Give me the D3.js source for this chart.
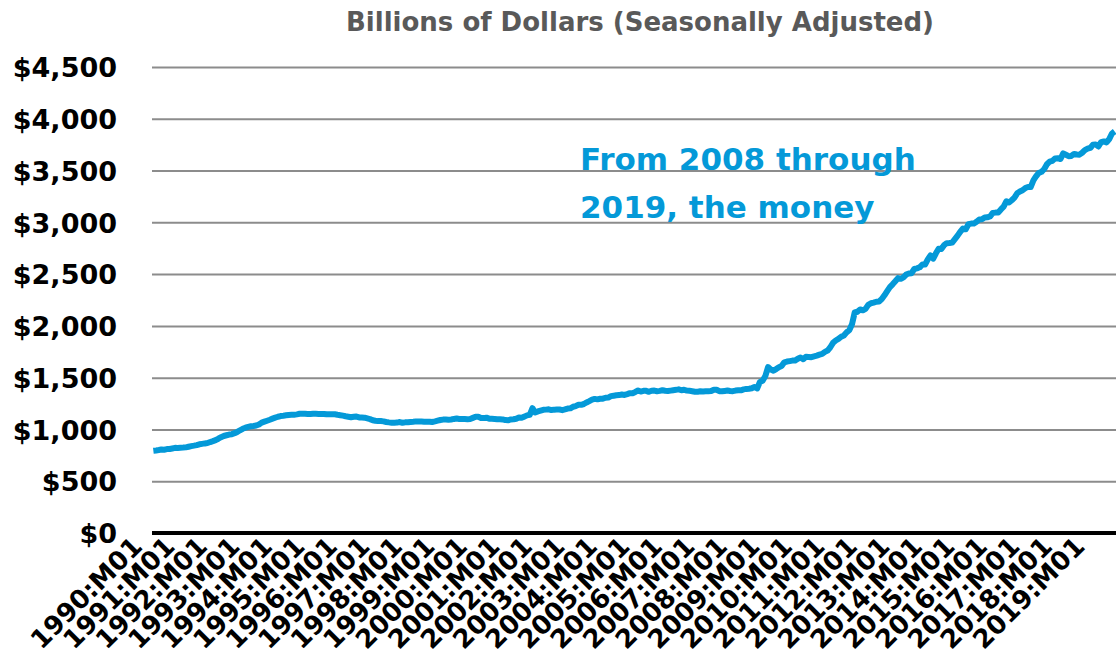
<!DOCTYPE html>
<html><head><meta charset="utf-8">
<script src="https://cdn.jsdelivr.net/npm/d3@7"></script>
<style>body{margin:0;background:#fff;overflow:hidden}</style></head>
<body>
<svg id="chart" width="1116" height="669"></svg>
<script>
const startYear = 1990;
// M1 money stock, billions of dollars, monthly 1990:M01 - 2019:M08
const m1Values = [
 794.2,797.4,801.2,806.1,804.4,810.0,810.9,816.5,822.1,821.7,823.9,824.7,
 826.8,832.8,838.7,843.4,848.8,856.6,861.0,865.2,868.5,878.4,887.0,896.7,
 910.4,925.2,936.7,943.8,950.8,954.3,963.8,976.0,992.0,1006.5,1017.0,1024.9,
 1030.5,1033.3,1038.0,1047.7,1065.9,1075.1,1084.4,1094.0,1104.3,1113.9,1122.5,1129.6,
 1132.6,1136.2,1140.0,1141.4,1142.7,1145.4,1151.3,1150.9,1150.8,1149.3,1149.1,1150.7,
 1150.6,1149.9,1149.0,1150.0,1146.2,1146.5,1146.8,1146.6,1141.8,1137.9,1133.6,1127.5,
 1122.6,1117.4,1122.0,1124.5,1116.2,1115.0,1113.4,1106.5,1099.8,1089.4,1084.3,1080.6,
 1080.6,1078.0,1072.0,1068.3,1065.3,1065.6,1066.3,1071.5,1064.5,1068.4,1069.5,1072.8,
 1074.7,1077.9,1076.5,1077.0,1075.2,1074.6,1075.3,1072.4,1077.8,1084.5,1091.0,1095.0,
 1096.3,1094.5,1096.1,1101.5,1105.4,1101.4,1100.5,1099.9,1098.7,1100.8,1111.5,1122.2,
 1122.5,1110.3,1109.4,1113.6,1104.2,1102.9,1101.4,1098.4,1099.0,1097.1,1090.1,1088.4,
 1096.1,1097.8,1102.9,1114.8,1113.4,1123.5,1136.3,1141.5,1205.1,1163.2,1174.0,1182.1,
 1189.8,1191.4,1194.0,1187.1,1191.1,1191.8,1192.1,1186.3,1193.4,1201.5,1203.4,1219.2,
 1225.9,1237.4,1238.0,1245.7,1260.4,1273.4,1287.2,1295.0,1290.6,1296.0,1297.4,1306.3,
 1307.9,1322.0,1326.2,1329.8,1331.5,1337.2,1333.4,1341.3,1350.4,1350.0,1362.1,1376.0,
 1365.8,1372.7,1372.5,1363.5,1373.8,1375.1,1368.8,1372.4,1378.3,1373.3,1370.8,1375.0,
 1379.1,1382.5,1387.0,1378.2,1383.2,1374.9,1372.8,1369.3,1364.3,1364.1,1368.1,1367.0,
 1369.1,1369.8,1370.6,1383.3,1383.0,1369.4,1369.0,1372.2,1375.6,1371.4,1369.4,1375.4,
 1378.3,1378.1,1386.9,1391.7,1393.4,1397.9,1410.8,1395.7,1459.3,1470.8,1515.2,1602.4,
 1578.9,1567.8,1583.2,1600.8,1611.9,1648.3,1655.4,1660.1,1664.7,1665.4,1683.2,1695.5,
 1678.7,1701.6,1700.2,1698.1,1706.1,1713.3,1722.7,1729.6,1749.1,1762.0,1793.9,1836.3,
 1858.8,1874.1,1895.1,1906.8,1937.4,1958.2,2015.2,2129.3,2136.5,2159.2,2150.4,2164.9,
 2203.6,2218.9,2224.2,2233.0,2235.3,2258.9,2295.1,2335.3,2374.1,2401.4,2430.7,2461.4,
 2454.4,2469.0,2495.8,2506.4,2509.2,2549.2,2555.6,2565.6,2593.0,2593.1,2642.3,2680.9,
 2648.9,2701.0,2745.1,2742.9,2779.5,2799.1,2799.7,2804.3,2837.7,2871.6,2909.4,2939.8,
 2932.7,2981.7,2987.6,2987.6,3006.2,3027.8,3029.9,3046.7,3049.0,3056.5,3091.1,3093.8,
 3094.7,3124.6,3151.8,3203.3,3191.8,3213.2,3239.1,3280.1,3297.4,3310.0,3331.0,3341.6,
 3340.3,3404.6,3445.2,3476.8,3487.9,3514.8,3560.8,3585.6,3593.0,3617.5,3619.4,3611.1,
 3665.5,3652.6,3639.0,3641.2,3660.7,3654.6,3653.7,3672.0,3697.4,3711.1,3718.5,3748.7,
 3752.6,3732.6,3774.9,3781.4,3771.6,3804.0,3857.4,3877.4
];
const categories = m1Values.map((d, i) =>
  `${startYear + Math.floor(i / 12)}:M${String(i % 12 + 1).padStart(2, "0")}`);
const xTickLabels = categories.filter(c => c.endsWith(":M01"));
const yTickValues = [0, 500, 1000, 1500, 2000, 2500, 3000, 3500, 4000, 4500];
const titleText = "Billions of Dollars (Seasonally Adjusted)";
const annotationLines = ["From 2008 through", "2019, the money"];

const FONT = "'DejaVu Sans', sans-serif";
const BLUE = "#0499d8";
const svg = d3.select("#chart");
const plotL = 152, plotR = 1116, plotT = 67, plotB = 533;

const x = d3.scalePoint().domain(categories).range([plotL, plotR]).padding(0.5);
const y = d3.scaleLinear().domain([0, 4500]).range([plotB, plotT]);

// title
svg.append("text").attr("x", 640).attr("y", 31).attr("text-anchor", "middle")
  .attr("font-family", FONT).attr("font-weight", "bold").attr("font-size", 26)
  .attr("fill", "#595959").text(titleText);

// y axis + gridlines
const yAxis = svg.append("g").attr("transform", `translate(${plotL},0)`)
  .call(d3.axisLeft(y).tickValues(yTickValues).tickSize(-(plotR - plotL))
    .tickPadding(35).tickFormat(d3.format("$,")));
yAxis.select(".domain").remove();
yAxis.selectAll(".tick line").attr("stroke", "#8c8c8c").attr("stroke-width", 2)
  .filter(d => d === 0).remove();
yAxis.selectAll(".tick text").attr("font-family", FONT).attr("font-weight", "bold")
  .attr("font-size", 27).attr("fill", "#000").attr("dy", "0.36em");

// line
const line = d3.line().x((d, i) => x(categories[i])).y(d => y(d));
svg.append("path").datum(m1Values).attr("d", line).attr("fill", "none")
  .attr("stroke", BLUE).attr("stroke-width", 6).attr("stroke-linejoin", "round");

// x axis
const xAxis = svg.append("g").attr("transform", `translate(0,${plotB})`)
  .call(d3.axisBottom(x).tickValues(xTickLabels).tickSize(0));
xAxis.select(".domain").attr("stroke", "#000").attr("stroke-width", 4)
  .attr("d", `M${plotL},0H${plotR}`);
xAxis.selectAll(".tick text").attr("font-family", FONT).attr("font-weight", "bold")
  .attr("font-size", 26).attr("fill", "#000")
  .attr("x", null).attr("y", null).attr("dy", null)
  .attr("text-anchor", "end").attr("transform", "translate(-10,15) rotate(-45)");

// annotation
const ann = svg.append("text").attr("font-family", FONT).attr("font-weight", "bold")
  .attr("font-size", 31).attr("fill", BLUE);
annotationLines.forEach((t, i) =>
  ann.append("tspan").attr("x", 580).attr("y", 170 + i * 48).text(t));
</script>
</body></html>
